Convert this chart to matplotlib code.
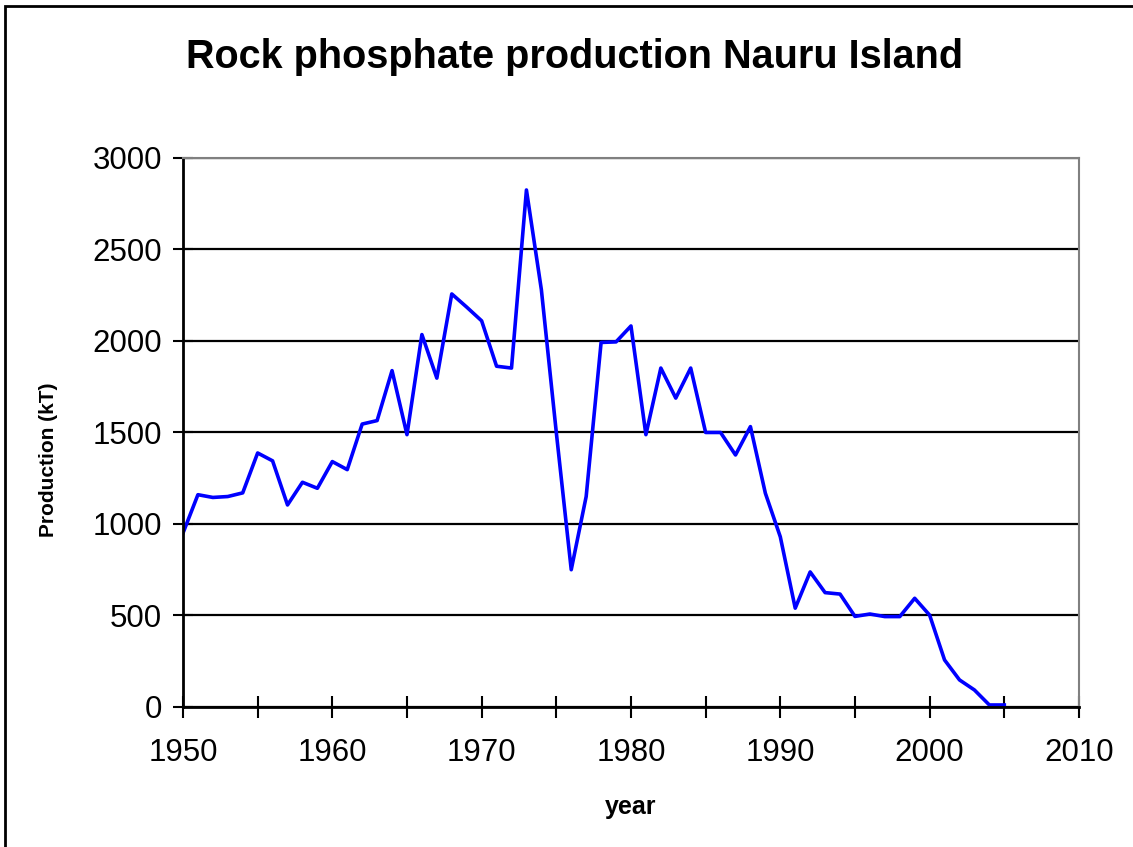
import matplotlib.pyplot as plt
from matplotlib.patches import Rectangle
from matplotlib.ticker import MultipleLocator

plt.rcParams['font.family'] = ['Liberation Sans', 'DejaVu Sans']

# production by year, kT
years = list(range(1950, 2006))
production = [950, 1160, 1145, 1150, 1170, 1388, 1345, 1104, 1228, 1195,
              1341, 1297, 1546, 1565, 1838, 1488, 2035, 1797, 2257, 2185,
              2110, 1862, 1852, 2825, 2280, 1500, 750, 1150, 1992, 1995,
              2082, 1488, 1852, 1688, 1852, 1500, 1500, 1377, 1532, 1168,
              930, 540, 738, 625, 617, 495, 508, 494, 494, 594,
              502, 257, 148, 93, 11, 11]

fig = plt.figure(figsize=(11.33, 8.47), dpi=100)
ax = fig.add_axes([0.1615, 0.1653, 0.7908, 0.6482])

ax.plot(years, production, color='#0000ff', lw=2.6)

ax.set_xlim(1950, 2010)
ax.set_ylim(0, 3000)
ax.xaxis.set_major_locator(MultipleLocator(10))
ax.xaxis.set_minor_locator(MultipleLocator(5))
ax.yaxis.set_major_locator(MultipleLocator(500))
ax.tick_params(axis='x', which='both', direction='inout', length=16, width=1.5,
               labelsize=22.5, pad=14)
ax.tick_params(axis='y', direction='inout', length=14, width=1.5,
               labelsize=22.5, pad=8)
ax.grid(axis='y', color='black', lw=1.6)
ax.set_axisbelow(True)

for s in ['left', 'bottom']:
    ax.spines[s].set_color('black')
    ax.spines[s].set_linewidth(2)
for s in ['top', 'right']:
    ax.spines[s].set_color('#808080')
    ax.spines[s].set_linewidth(1.5)

ax.set_xlabel('year', fontsize=18, fontweight='bold')
ax.xaxis.set_label_coords(0.5, -0.16)
ax.set_ylabel('Production (kT)', fontsize=15, fontweight='bold')
ax.yaxis.set_label_coords(-0.14, 0.45)
fig.text(0.507, 0.933, 'Rock phosphate production Nauru Island', ha='center',
         va='center', fontsize=28.5, fontweight='bold')

# outer chart border
fig.patches.append(Rectangle((0.004, -0.01), 1.2, 1.0035, transform=fig.transFigure,
                             fill=False, edgecolor='black', lw=2))

fig.savefig('out.png', dpi=100)
